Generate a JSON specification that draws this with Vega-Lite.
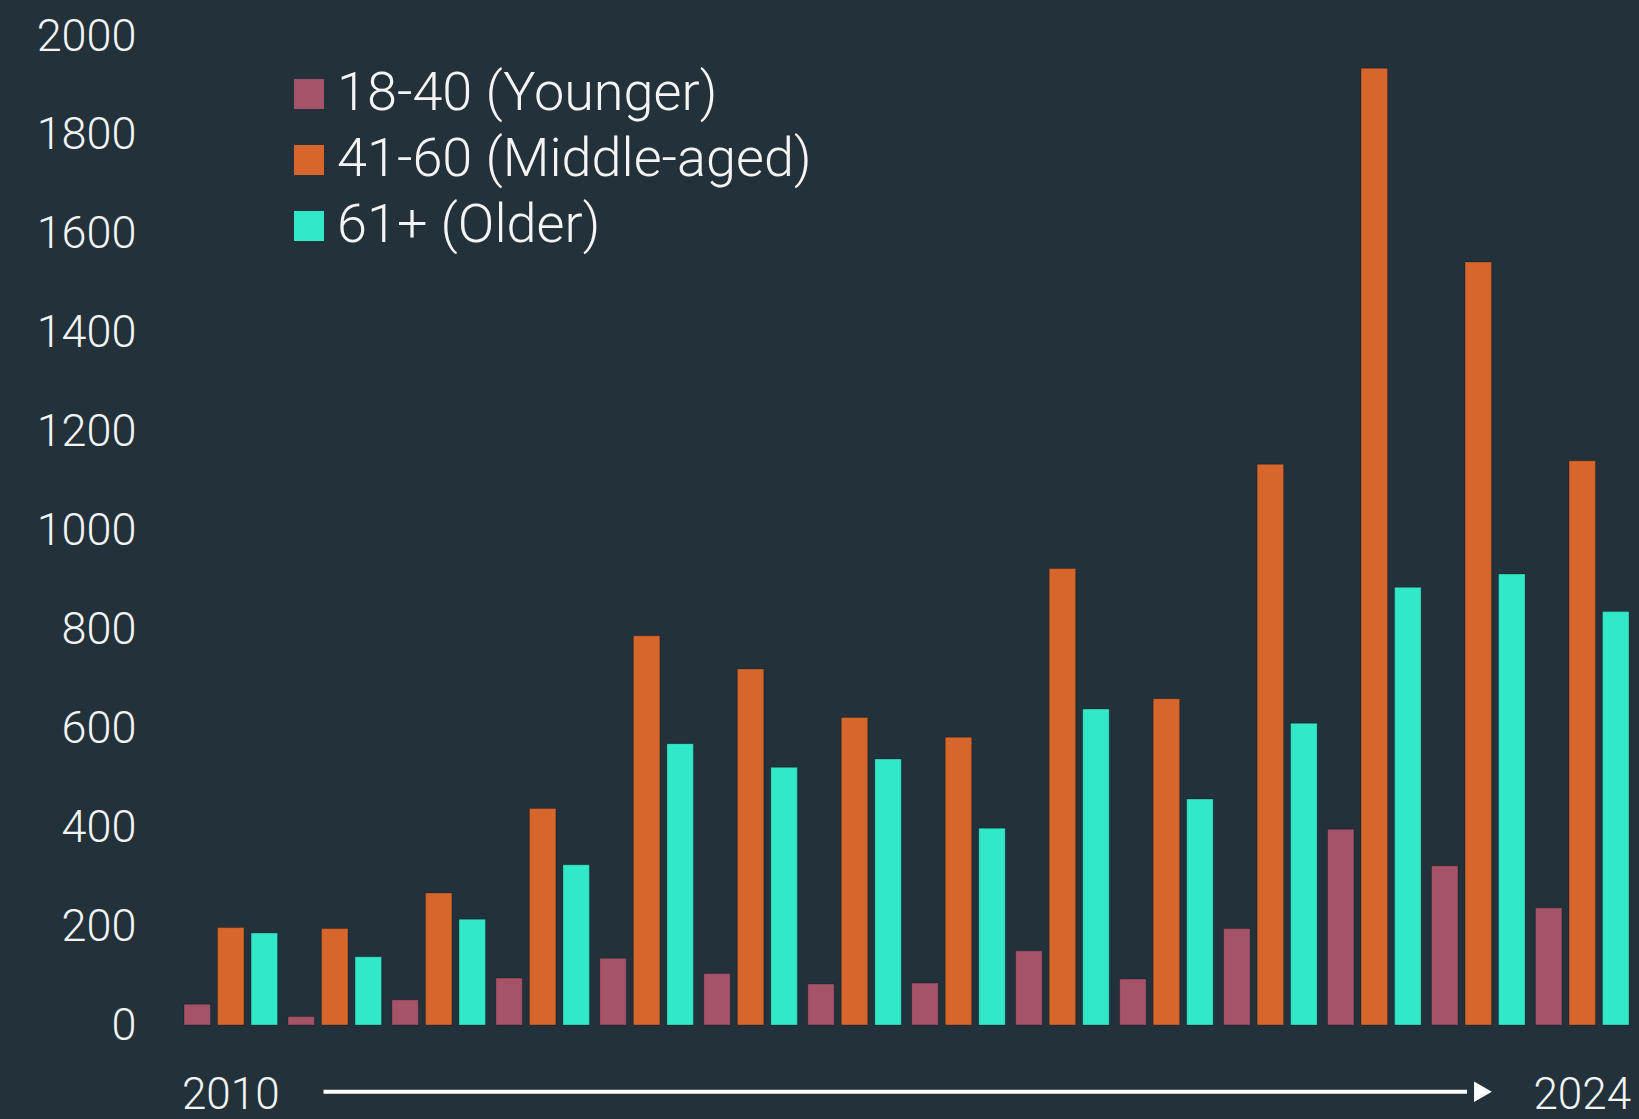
{
  "$schema": "https://vega.github.io/schema/vega-lite/v6.json",
  "autosize": "none",
  "padding": {"left": 184, "top": 36, "right": 10, "bottom": 94},
  "width": 1445,
  "height": 989,
  "background": "#22313a",
  "config": {
    "view": {"stroke": null},
    "font": "Roboto",
    "axis": {"labelColor": "#f4f4f4", "labelFont": "Roboto", "labelFontWeight": 300, "grid": false, "domain": false, "ticks": false, "title": null}
  },
  "datasets": {
    "bars": [
      {"year": "2010", "group": "18-40 (Younger)", "value": 42},
      {"year": "2010", "group": "41-60 (Middle-aged)", "value": 197},
      {"year": "2010", "group": "61+ (Older)", "value": 186},
      {"year": "2011", "group": "18-40 (Younger)", "value": 17},
      {"year": "2011", "group": "41-60 (Middle-aged)", "value": 195},
      {"year": "2011", "group": "61+ (Older)", "value": 138},
      {"year": "2012", "group": "18-40 (Younger)", "value": 51},
      {"year": "2012", "group": "41-60 (Middle-aged)", "value": 267},
      {"year": "2012", "group": "61+ (Older)", "value": 214},
      {"year": "2013", "group": "18-40 (Younger)", "value": 95},
      {"year": "2013", "group": "41-60 (Middle-aged)", "value": 438},
      {"year": "2013", "group": "61+ (Older)", "value": 324},
      {"year": "2014", "group": "18-40 (Younger)", "value": 135},
      {"year": "2014", "group": "41-60 (Middle-aged)", "value": 787},
      {"year": "2014", "group": "61+ (Older)", "value": 569},
      {"year": "2015", "group": "18-40 (Younger)", "value": 104},
      {"year": "2015", "group": "41-60 (Middle-aged)", "value": 720},
      {"year": "2015", "group": "61+ (Older)", "value": 521},
      {"year": "2016", "group": "18-40 (Younger)", "value": 83},
      {"year": "2016", "group": "41-60 (Middle-aged)", "value": 622},
      {"year": "2016", "group": "61+ (Older)", "value": 538},
      {"year": "2017", "group": "18-40 (Younger)", "value": 85},
      {"year": "2017", "group": "41-60 (Middle-aged)", "value": 582},
      {"year": "2017", "group": "61+ (Older)", "value": 398},
      {"year": "2018", "group": "18-40 (Younger)", "value": 150},
      {"year": "2018", "group": "41-60 (Middle-aged)", "value": 923},
      {"year": "2018", "group": "61+ (Older)", "value": 639},
      {"year": "2019", "group": "18-40 (Younger)", "value": 93},
      {"year": "2019", "group": "41-60 (Middle-aged)", "value": 660},
      {"year": "2019", "group": "61+ (Older)", "value": 457},
      {"year": "2021", "group": "18-40 (Younger)", "value": 195},
      {"year": "2021", "group": "41-60 (Middle-aged)", "value": 1134},
      {"year": "2021", "group": "61+ (Older)", "value": 610},
      {"year": "2022", "group": "18-40 (Younger)", "value": 396},
      {"year": "2022", "group": "41-60 (Middle-aged)", "value": 1935},
      {"year": "2022", "group": "61+ (Older)", "value": 885},
      {"year": "2023", "group": "18-40 (Younger)", "value": 322},
      {"year": "2023", "group": "41-60 (Middle-aged)", "value": 1543},
      {"year": "2023", "group": "61+ (Older)", "value": 912},
      {"year": "2024", "group": "18-40 (Younger)", "value": 237},
      {"year": "2024", "group": "41-60 (Middle-aged)", "value": 1141},
      {"year": "2024", "group": "61+ (Older)", "value": 836}
    ],
    "arrow": [
      {"year": "2011", "y": -135},
      {"year": "2023", "y": -135}
    ],
    "head": [
      {"year": "2023", "y": -135}
    ]
  },
  "layer": [
    {
      "data": {"name": "bars"},
      "mark": {"type": "bar", "stroke": "#000000", "strokeOpacity": 0.25, "strokeWidth": 1},
      "encoding": {
        "x": {
          "field": "year", "type": "ordinal",
          "scale": {"paddingInner": 0.1, "paddingOuter": 0},
          "axis": {
            "labelExpr": "datum.value == '2010' || datum.value == '2024' ? datum.label : ''",
            "labelAngle": 0, "labelFontSize": 44, "labelPadding": 70, "labelBaseline": "middle"
          }
        },
        "xOffset": {"field": "group", "type": "nominal", "scale": {"paddingInner": 0.21, "paddingOuter": 0}},
        "y": {
          "field": "value", "type": "quantitative",
          "scale": {"domain": [0, 2000], "nice": false},
          "axis": {"values": [0, 200, 400, 600, 800, 1000, 1200, 1400, 1600, 1800, 2000], "format": "d", "labelFontSize": 45, "labelPadding": 48}
        },
        "color": {
          "field": "group", "type": "nominal",
          "scale": {"domain": ["18-40 (Younger)", "41-60 (Middle-aged)", "61+ (Older)"], "range": ["#a55368", "#d6662c", "#31e8c8"]},
          "legend": {
            "title": null, "orient": "none", "legendX": 98, "legendY": 31,
            "symbolType": "square", "symbolSize": 900, "symbolStrokeWidth": 0,
            "labelFontSize": 54, "labelColor": "#f4f4f4", "labelFont": "Roboto", "labelFontWeight": 300,
            "labelLimit": 800, "rowPadding": 12, "labelOffset": 1
          }
        }
      }
    },
    {
      "data": {"name": "arrow"},
      "mark": {"type": "line", "color": "#ffffff", "strokeWidth": 4},
      "encoding": {
        "x": {"field": "year", "type": "ordinal", "bandPosition": 0.38},
        "y": {"field": "y", "type": "quantitative"}
      }
    },
    {
      "data": {"name": "head"},
      "mark": {"type": "point", "shape": "triangle-right", "filled": true, "color": "#ffffff", "opacity": 1, "size": 420},
      "encoding": {
        "x": {"field": "year", "type": "ordinal", "bandPosition": 0.55},
        "y": {"field": "y", "type": "quantitative"}
      }
    }
  ]
}
